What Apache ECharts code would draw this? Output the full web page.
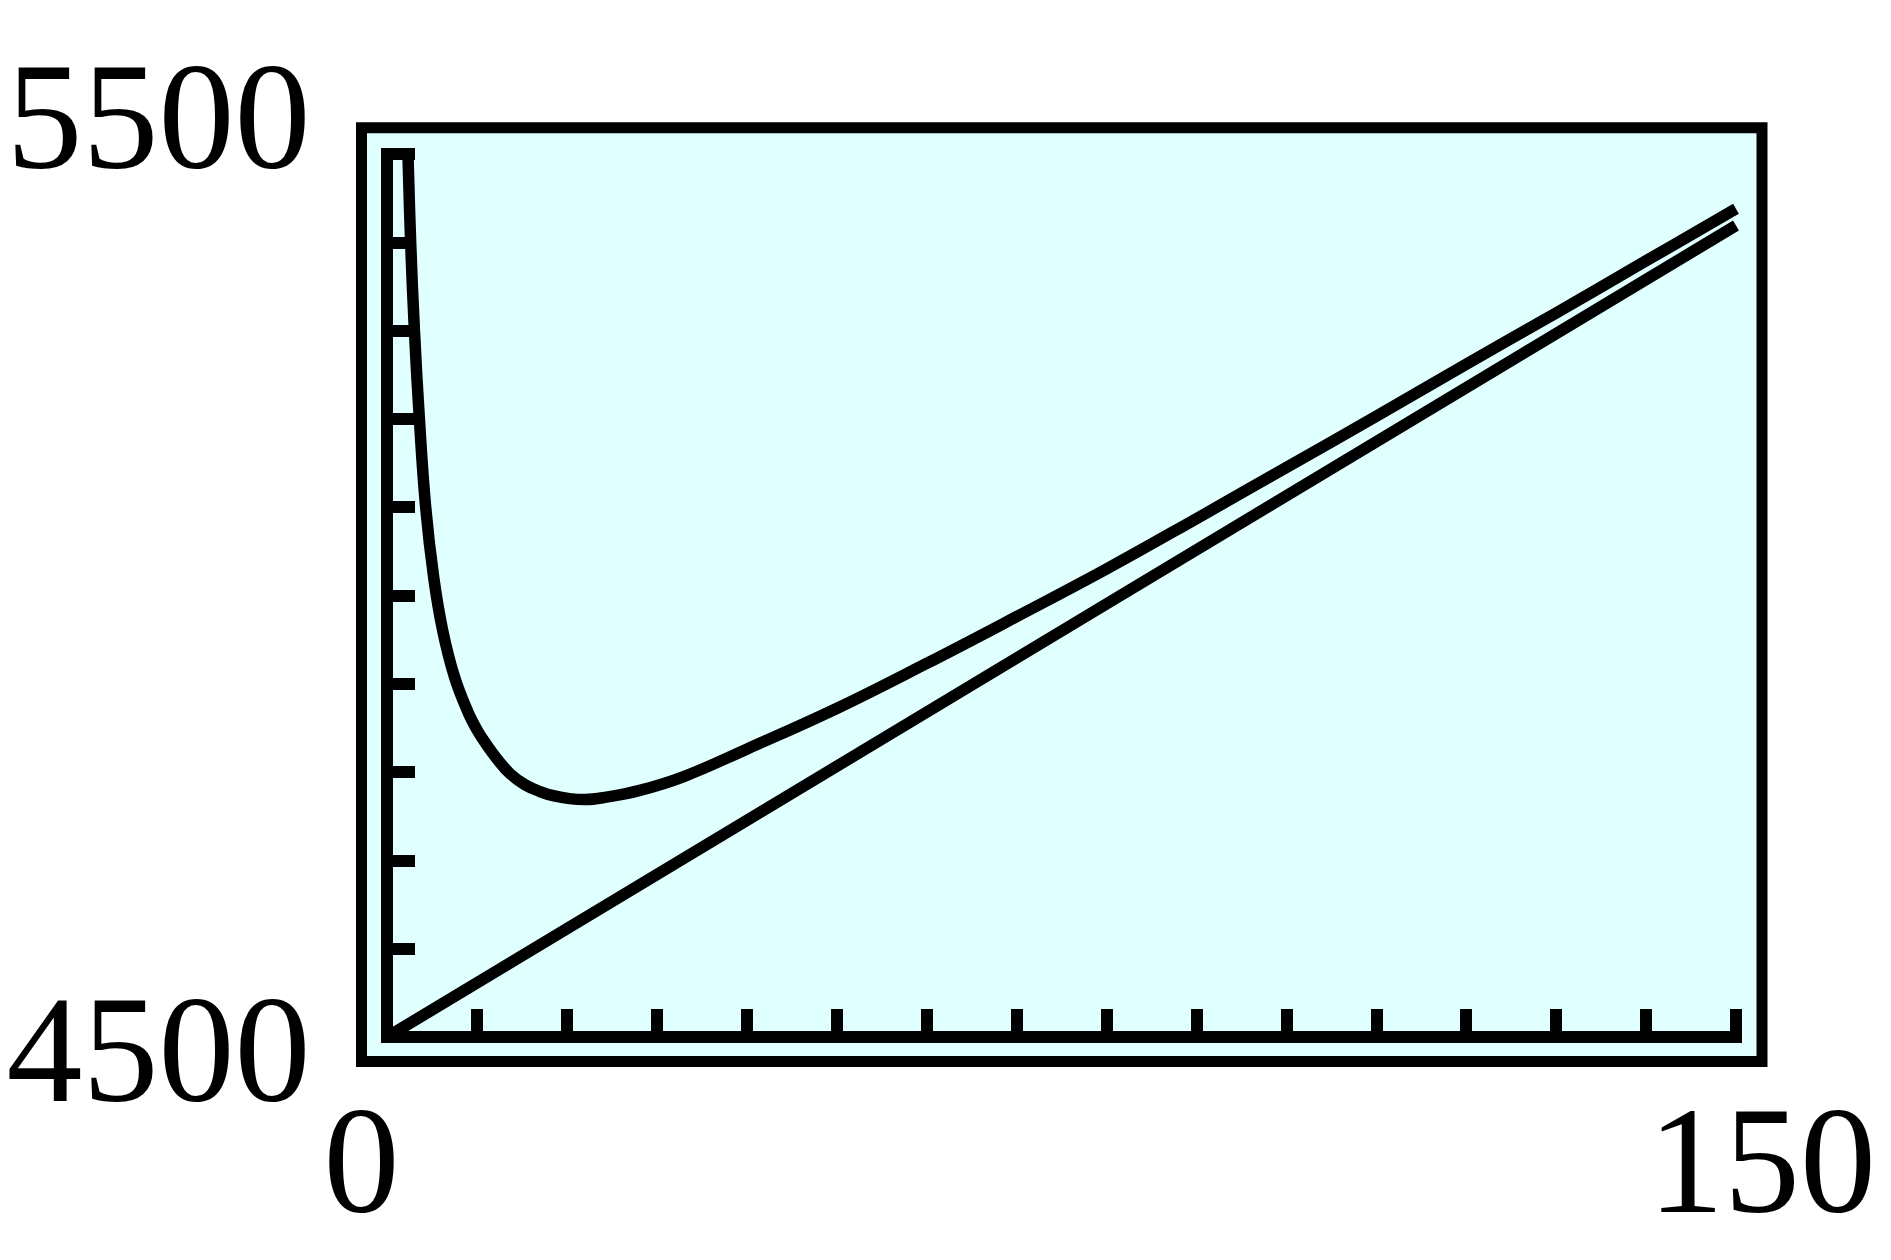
<!DOCTYPE html>
<html>
<head>
<meta charset="utf-8">
<script src="https://cdn.jsdelivr.net/npm/echarts@6/dist/echarts.min.js"></script>
<style>
  html, body { margin: 0; padding: 0; background: #ffffff; }
  #chart { width: 1891px; height: 1260px; }
</style>
</head>
<body>
<div id="chart"></div>
<script>
// Window of the plot
const xMin = 0, xMax = 150, xStep = 10;
const yMin = 4500, yMax = 5500, yStep = 100;

// Corner labels (as printed)
const xEndLabels = ['0', '150'];
const yEndLabels = ['4500', '5500'];

// Upper curve: points
const curveX = [2.33, 2.63, 3.05, 3.6, 4.3, 5.2, 6.2, 7.5, 9.0, 10.0, 11.0, 12.3, 13.7, 15.3, 17.0, 18.6, 20.3, 22.0, 24.0, 28.0, 33.0, 40.0, 50.0, 60.0, 70.0, 80.0, 90.0, 100.0, 110.0, 120.0, 130.0, 140.0, 150.0];
const curveY = [5500, 5400, 5300, 5200, 5100, 5020, 4960, 4908, 4868, 4848, 4832, 4814, 4798, 4786, 4778, 4773, 4770, 4769, 4771, 4779, 4795, 4826, 4872, 4923, 4976, 5030, 5087, 5145, 5203, 5262, 5320, 5379, 5438];

// Lower straight line: points
const lineX = [0, 81.4, 150];
const lineY = [4500, 4999, 5419];

const zip = (a, b) => a.map((v, i) => [v, b[i]]);

const FONT = 'Liberation Serif';
const BASE_FS = 90;          // font size actually given to the canvas
const FS = 152;              // displayed size (reached by scaling)
const SC = FS / BASE_FS;
const chart = echarts.init(document.getElementById('chart'), null, { renderer: 'canvas' });

// frame geometry (pixels)
const frame = { left: 361.5, top: 127.7, right: 1762, bottom: 1061.5 };

// text box: width = 0.5em per digit, height = 1em; anchored at its top-left
function cornerText(text, cx, cy, align) {
  const w = text.length * FS * 0.5;
  const left = align === 'right' ? cx - w : cx - w / 2;
  return {
    type: 'text', x: left, y: cy - FS / 2, scaleX: SC, scaleY: SC,
    style: { text: text, fontSize: BASE_FS, fontFamily: FONT, fill: '#000000' }
  };
}

chart.setOption({
  backgroundColor: '#ffffff',
  animation: false,
  grid: [
    { // outer frame
      left: frame.left, top: frame.top, right: 1891 - frame.right, bottom: 1260 - frame.bottom,
      show: true, backgroundColor: '#E0FFFF', borderColor: '#000000', borderWidth: 11
    },
    { // plotting area
      left: 387, top: 154, right: 155, bottom: 223,
      show: false
    }
  ],
  xAxis: [
    {
      gridIndex: 0, type: 'value', min: xMin, max: xMax, show: false
    },
    {
      gridIndex: 1, type: 'value', min: xMin, max: xMax, interval: xStep,
      axisLine: { show: true, onZero: false, lineStyle: { color: '#000000', width: 12, cap: 'square' } },
      axisTick: { show: true, inside: true, length: 28, lineStyle: { color: '#000000', width: 12 } },
      axisLabel: { show: false }, splitLine: { show: false }
    }
  ],
  yAxis: [
    {
      gridIndex: 0, type: 'value', min: yMin, max: yMax, show: false
    },
    {
      gridIndex: 1, type: 'value', min: yMin, max: yMax, interval: yStep,
      axisLine: { show: true, onZero: false, lineStyle: { color: '#000000', width: 12, cap: 'square' } },
      axisTick: { show: true, inside: true, length: 28, lineStyle: { color: '#000000', width: 12 } },
      axisLabel: { show: false }, splitLine: { show: false }
    }
  ],
  graphic: [
    cornerText(yEndLabels[1], 310.5, frame.top, 'right'),
    cornerText(yEndLabels[0], 310.5, frame.bottom, 'right'),
    cornerText(xEndLabels[0], frame.left, 1172, 'center'),
    cornerText(xEndLabels[1], frame.right, 1172, 'center')
  ],
  series: [
    {
      type: 'line', xAxisIndex: 1, yAxisIndex: 1,
      data: zip(lineX, lineY), showSymbol: false, symbol: 'none',
      lineStyle: { color: '#000000', width: 11.5, cap: 'butt' }, z: 3
    },
    {
      type: 'line', xAxisIndex: 1, yAxisIndex: 1,
      data: zip(curveX, curveY), showSymbol: false, symbol: 'none',
      smooth: 0.4,
      lineStyle: { color: '#000000', width: 11.5, cap: 'butt', join: 'round' }, z: 3
    }
  ]
});
</script>
</body>
</html>
